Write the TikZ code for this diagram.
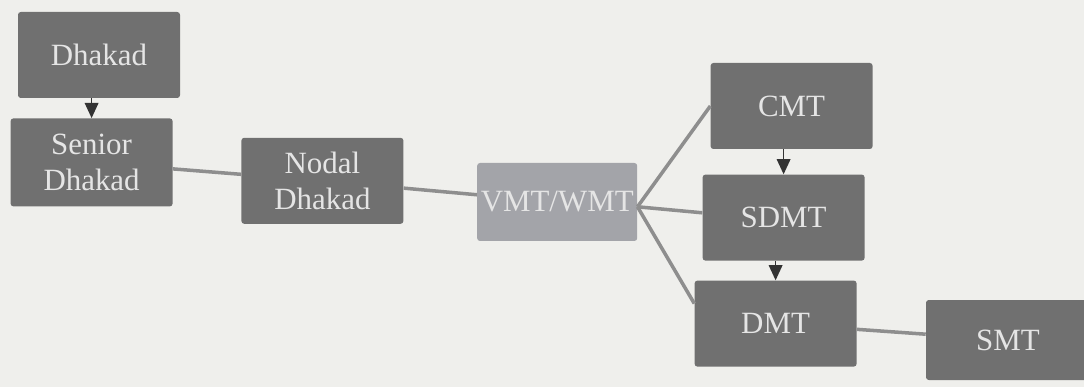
\documentclass[tikz,border=0pt]{standalone}
\usepackage{fontspec}
\setmainfont{Liberation Serif}
\usepackage{tikz}
\usetikzlibrary{positioning}
\usetikzlibrary{arrows.meta}
\usepackage{xcolor}
\definecolor{paper}{HTML}{EFEFEC}
\definecolor{boxgrey}{HTML}{707070}
\definecolor{lightbox}{HTML}{A3A4A9}
\definecolor{linegrey}{HTML}{8E8E8E}

\tikzset{
  box/.style={rounded corners=2pt, fill=boxgrey, text=white!90!black, inner sep=2pt,
    minimum width=4.05cm, minimum height=2.15cm, align=center,
    font=\fontsize{22}{25.5}\selectfont},
  link/.style={draw=linegrey, line width=2.5pt},
  down/.style={-{Triangle[length=3.8mm, width=3.4mm]}, line width=1.2pt, draw=black!80}
}

\begin{document}
\begin{tikzpicture}
       \fill[paper] (0cm, 0cm) rectangle (27.1cm, -9.675cm);
       \useasboundingbox (0cm, 0cm) rectangle (27.1cm, -9.675cm);

       \node[box] (dhakad) at ( 2.475cm, -1.375cm) {Dhakad};
       \node[box, minimum height=2.2cm] (senior) at ( 2.29cm, -4.06cm) {Senior\\Dhakad};
       \node[box] (nodal)  at ( 8.06cm, -4.52cm) {Nodal\\Dhakad};
       \node[box, fill=lightbox, minimum width=4cm, minimum height=1.95cm] (vmt) at (13.93cm, -5.05cm) {VMT/WMT};
       \node[box] (cmt)    at (19.79cm, -2.65cm) {CMT};
       \node[box] (sdmt)   at (19.59cm, -5.44cm) {SDMT};
       \node[box] (dmt)    at (19.39cm, -8.09cm) {DMT};
       \node[box, minimum width=4.1cm, minimum height=2cm] (smt) at (25.2cm, -8.5cm) {SMT};

       \coordinate (fork) at ([yshift=-0.12cm]vmt.east);

       \draw[down] (senior.north |- dhakad.south) -- (senior.north);
       \draw[down] (sdmt.north |- cmt.south) -- (sdmt.north);
       \draw[down] (dmt.north |- sdmt.south) -- (dmt.north);

       \draw[link] (senior) -- (nodal);
       \draw[link] (nodal) -- (vmt);
       \draw[link] (fork) -- (cmt.west);
       \draw[link] (fork) -- ([yshift=0.12cm]sdmt.west);
       \draw[link] (fork) -- ([yshift=0.5cm]dmt.west);
       \draw[link] (dmt) -- (smt);
    \end{tikzpicture}
\end{document}
